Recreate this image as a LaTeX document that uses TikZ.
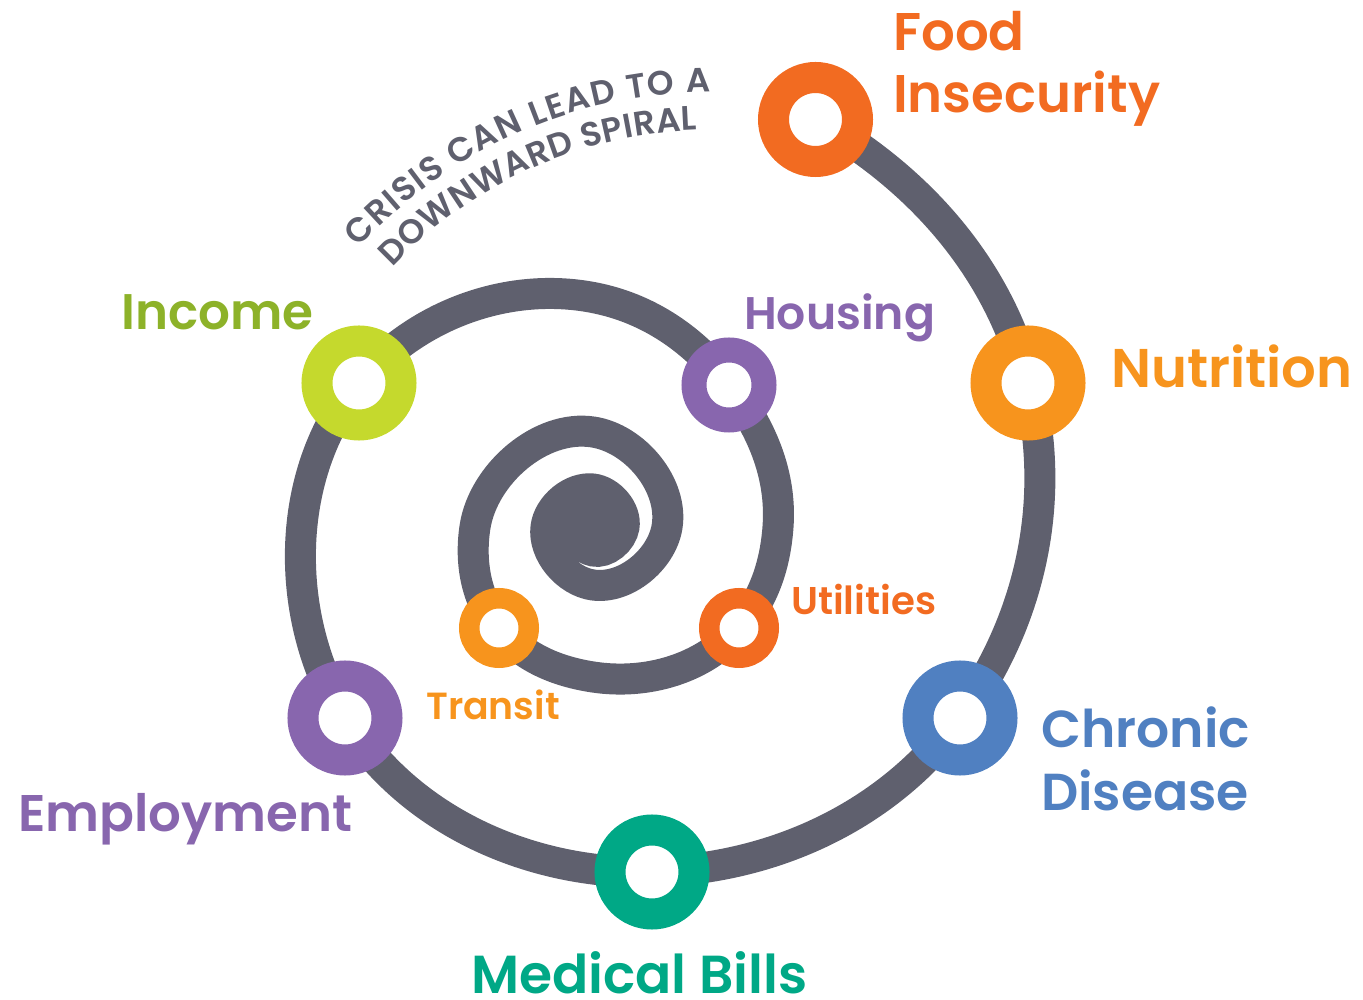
\documentclass[tikz,border=0pt]{standalone}
\usepackage{fontspec}
\setmainfont{Poppins}[BoldFont={Poppins SemiBold}]
\usepackage{xcolor}
\usepackage{tikz}
\usetikzlibrary{positioning, backgrounds, decorations.text}

\definecolor{spiralgray}{HTML}{5F606E}
\definecolor{foodorange}{HTML}{F26B21}
\definecolor{nutrorange}{HTML}{F7941D}
\definecolor{chronblue}{HTML}{5080C1}
\definecolor{medgreen}{HTML}{00A886}
\definecolor{jobpurple}{HTML}{8866AE}
\definecolor{incomelime}{HTML}{C5D92D}
\definecolor{incometext}{HTML}{8DB229}

\newcommand{\arctext}{\bfseries\fontsize{34}{34}\selectfont}

\begin{document}
\begin{tikzpicture}[
    x=1pt, y=1pt,
    bigring/.style={circle, draw=#1, fill=white, line width=31pt, minimum size=84pt, inner sep=0pt},
    midring/.style={circle, draw=#1, fill=white, line width=25pt, minimum size=70pt, inner sep=0pt},
    smallring/.style={circle, draw=#1, fill=white, line width=20.5pt, minimum size=59.5pt, inner sep=0pt},
    tagtext/.style={font=\bfseries\fontsize{#1}{#1}\selectfont, inner sep=0pt, align=left},
    spiral/.style={draw=spiralgray, line width=31pt, looseness=0.9}
]
\useasboundingbox (0,0) rectangle (1363,999);

\node[bigring=foodorange] (food) at (815.5,879.5) {};
\node[bigring=nutrorange] (nutr) at (1028,616) {};
\node[bigring=chronblue] (chron) at (960,281) {};
\node[bigring=medgreen] (med) at (652,127) {};
\node[bigring=jobpurple] (empl) at (345,281) {};
\node[bigring=incomelime] (inc) at (359,616) {};
\node[midring=jobpurple] (hous) at (729,614) {};
\node[smallring=foodorange] (util) at (739,371) {};
\node[smallring=nutrorange] (tran) at (499,371) {};

\node[tagtext=53, font=\bfseries\fontsize{53}{62}\selectfont, text=foodorange, anchor=north west] (foodtext) at (893,988) {Food\\Insecurity};
\node[tagtext=54.5, text=nutrorange, anchor=base west] (nutrtext) at (1111,611) {Nutrition};
\node[tagtext=52, font=\bfseries\fontsize{52}{63}\selectfont, text=chronblue, anchor=north west] (chrontext) at (1041,292) {Chronic\\Disease};
\node[tagtext=53.5, text=medgreen, anchor=base west] (medtext) at (471,6) {Medical Bills};
\node[tagtext=51.5, text=jobpurple, anchor=base west] (empltext) at (18,167) {Employment};
\node[tagtext=50, text=incometext, anchor=base west] (inctext) at (121,669) {Income};
\node[tagtext=45.7, text=jobpurple, anchor=base west] (houstext) at (744,669) {Housing};
\node[tagtext=38.7, text=foodorange, anchor=base west] (utiltext) at (791,384) {Utilities};
\node[tagtext=37.8, text=nutrorange, anchor=base west] (trantext) at (426,279) {Transit};

\path[decorate, decoration={text along path, text color=spiralgray, text align=fit to path,
    text={|\arctext|CRISIS CAN LEAD TO A}}]
    [shift={(712,429)}] (137.6:478) arc[start angle=137.6, end angle=90.2, radius=478];
\path[decorate, decoration={text along path, text color=spiralgray, text align=fit to path,
    text={|\arctext|DOWNWARD SPIRAL}}]
    [shift={(712,429)}] (136.6:440) arc[start angle=136.6, end angle=91.9, radius=440];

\begin{scope}[on background layer]
\draw[spiral] (food.center) to[out=-29.6, in=104.2] (nutr.center)
    to[out=-75.8, in=53.9] (chron.center)
    to[out=-126.1, in=1.5] (med.center)
    to[out=181.5, in=-58.4] (empl.center)
    to[out=121.6, in=-129.7] (inc.center)
    to[out=50.3, in=169.2] (593,701.5)
    to[out=-10.8, in=127.4] (hous.center)
    to[out=-52.6, in=85.8] (778,472)
    to[out=-94.2, in=49.3] (util.center)
    to[out=-130.7, in=-8.7] (593,322)
    to[out=171.3, in=-51.2] (tran.center)
    to[out=128.8, in=-98.7] (475,472)
    to[out=81.3, in=171.3] (593,567)
    to[out=-8.7, in=80.5] (667,472)
    to[out=-99.5, in=-8] (593,414)
    to[out=172, in=-97.3] (546,472)
    to[out=82.7, in=173.5] (593,510)
    to[out=-6.5, in=81.2] (624,472)
    to[out=-98.8, in=-12] (593,448)
    to[out=168, in=-101] (573,472)
    to[out=79, in=164] (593,486);
\fill[spiralgray] (593,472) circle (24);
\end{scope}

\end{tikzpicture}
\end{document}
